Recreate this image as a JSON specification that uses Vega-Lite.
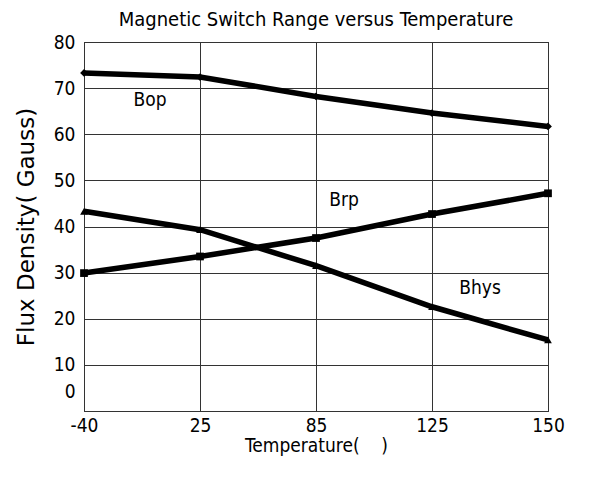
{
  "$schema": "https://vega.github.io/schema/vega-lite/v6.json",
  "autosize": {"type": "none"},
  "padding": {"left": 84, "top": 42, "right": 53, "bottom": 70},
  "width": 464,
  "height": 369,
  "background": "white",
  "title": {
    "text": "Magnetic Switch Range versus Temperature",
    "fontSize": 20,
    "fontWeight": "normal",
    "font": "Liberation Sans Narrow, DejaVu Sans Condensed, sans-serif",
    "color": "black",
    "offset": 3
  },
  "config": {
    "view": {"stroke": "black", "strokeWidth": 1},
    "axis": {
      "labelFont": "Liberation Sans Narrow, DejaVu Sans Condensed, sans-serif",
      "titleFont": "Liberation Sans Narrow, DejaVu Sans Condensed, sans-serif",
      "labelColor": "black",
      "titleColor": "black",
      "labelFontSize": 19,
      "titleFontSize": 19,
      "titleFontWeight": "normal",
      "gridColor": "#333",
      "gridOpacity": 1,
      "gridWidth": 1,
      "ticks": false,
      "domain": false
    }
  },
  "datasets": {
    "curves": [
      {"t": "-40", "series": "Bop", "v": 73.3},
      {"t": "25", "series": "Bop", "v": 72.4},
      {"t": "85", "series": "Bop", "v": 68.2},
      {"t": "125", "series": "Bop", "v": 64.6},
      {"t": "150", "series": "Bop", "v": 61.7},
      {"t": "-40", "series": "Brp", "v": 29.9},
      {"t": "25", "series": "Brp", "v": 33.5},
      {"t": "85", "series": "Brp", "v": 37.5},
      {"t": "125", "series": "Brp", "v": 42.7},
      {"t": "150", "series": "Brp", "v": 47.2},
      {"t": "-40", "series": "Bhys", "v": 43.3},
      {"t": "25", "series": "Bhys", "v": 39.3},
      {"t": "85", "series": "Bhys", "v": 31.5},
      {"t": "125", "series": "Bhys", "v": 22.6},
      {"t": "150", "series": "Bhys", "v": 15.4}
    ]
  },
  "layer": [
    {
      "data": {"name": "curves"},
      "mark": {"type": "line", "color": "black", "strokeWidth": 5.5},
      "encoding": {
        "x": {
          "field": "t", "type": "ordinal",
          "sort": ["-40", "25", "85", "125", "150"],
          "scale": {"type": "point", "padding": 0},
          "axis": {"title": "Temperature(\u00a0\u00a0\u00a0\u00a0)", "labelAngle": 0, "labelPadding": 5, "titlePadding": 1, "grid": true}
        },
        "y": {
          "field": "v", "type": "quantitative",
          "scale": {"domain": [0, 80], "nice": false},
          "axis": {
            "title": "Flux Density( Gauss)",
            "values": [0, 10, 20, 30, 40, 50, 60, 70, 80],
            "labelPadding": 9,
            "labelOffset": {"condition": {"test": "datum.value == 0", "value": -20}, "value": 0},
            "titlePadding": 15,
            "titleFont": "DejaVu Sans",
            "titleFontSize": 23,
            "grid": true
          }
        },
        "detail": {"field": "series"}
      }
    },
    {
      "data": {"name": "curves"},
      "mark": {"type": "point", "filled": true, "color": "black", "opacity": 1, "size": 60},
      "encoding": {
        "x": {"field": "t", "type": "ordinal", "sort": ["-40", "25", "85", "125", "150"]},
        "y": {"field": "v", "type": "quantitative"},
        "shape": {
          "field": "series", "type": "nominal",
          "scale": {"domain": ["Bop", "Brp", "Bhys"], "range": ["diamond", "square", "triangle-up"]},
          "legend": null
        }
      }
    },
    {
      "data": {"values": [{"t": "-40", "v": 67.5, "label": "Bop"}]},
      "mark": {"type": "text", "dx": 66, "fontSize": 19, "font": "Liberation Sans Narrow, DejaVu Sans Condensed, sans-serif", "color": "black"},
      "encoding": {
        "x": {"field": "t", "type": "ordinal", "sort": ["-40", "25", "85", "125", "150"]},
        "y": {"field": "v", "type": "quantitative"},
        "text": {"field": "label"}
      }
    },
    {
      "data": {"values": [{"t": "85", "v": 45.8, "label": "Brp"}]},
      "mark": {"type": "text", "dx": 28, "fontSize": 19, "font": "Liberation Sans Narrow, DejaVu Sans Condensed, sans-serif", "color": "black"},
      "encoding": {
        "x": {"field": "t", "type": "ordinal", "sort": ["-40", "25", "85", "125", "150"]},
        "y": {"field": "v", "type": "quantitative"},
        "text": {"field": "label"}
      }
    },
    {
      "data": {"values": [{"t": "125", "v": 26.7, "label": "Bhys"}]},
      "mark": {"type": "text", "dx": 48, "fontSize": 19, "font": "Liberation Sans Narrow, DejaVu Sans Condensed, sans-serif", "color": "black"},
      "encoding": {
        "x": {"field": "t", "type": "ordinal", "sort": ["-40", "25", "85", "125", "150"]},
        "y": {"field": "v", "type": "quantitative"},
        "text": {"field": "label"}
      }
    }
  ]
}
